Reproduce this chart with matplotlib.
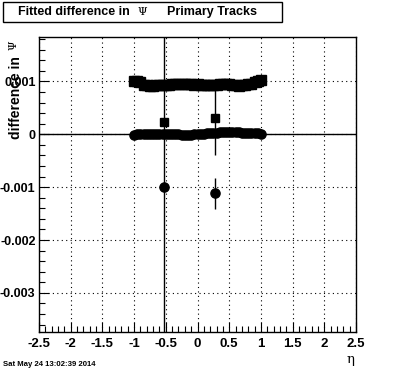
import matplotlib
matplotlib.use("Agg")
import matplotlib.pyplot as plt
from matplotlib.ticker import MultipleLocator, FixedLocator

# ---- data ----
eta = [-1.00, -0.95, -0.90, -0.85, -0.80, -0.75, -0.70, -0.65, -0.60, -0.55,
       -0.50, -0.45, -0.40, -0.35, -0.30, -0.25, -0.20, -0.15, -0.10, -0.05,
       0.00, 0.05, 0.10, 0.15, 0.20, 0.25, 0.30, 0.35, 0.40, 0.45,
       0.50, 0.55, 0.60, 0.65, 0.70, 0.75, 0.80, 0.85, 0.90, 0.95, 1.00]
sq_vals = [0.00101, 0.00100, 0.00098, 0.00094, 0.00093, 0.00092, 0.00092,
           0.00093, 0.00093, 0.00094, 0.00094, 0.00094, 0.00095, 0.00095,
           0.00095, 0.00096, 0.00096, 0.00095, 0.00095, 0.00094, 0.00095,
           0.00094, 0.00094, 0.00094, 0.00094, 0.00093, 0.00094, 0.00095,
           0.00095, 0.00096, 0.00096, 0.00094, 0.00093, 0.00092, 0.00093,
           0.00094, 0.00095, 0.00096, 0.00098, 0.00100, 0.00102]
circ_vals = [-0.00001, 0.0, 0.0, 0.00001, 0.00001, 0.0, 0.0, 0.00001, 0.00001,
             0.0, 0.0, 0.00001, 0.00001, 0.0, 0.0, -0.00001, -0.00001, -0.00002,
             -0.00001, 0.0, 0.0, 0.00001, 0.00001, 0.00002, 0.00002, 0.00002,
             0.00003, 0.00004, 0.00005, 0.00005, 0.00005, 0.00004, 0.00004,
             0.00004, 0.00003, 0.00003, 0.00003, 0.00002, 0.00002, 0.00002, 0.00001]
sq_out_x = [-0.53, 0.27]
sq_out_y = [0.000225, 0.00031]
sq_out_err = [0.01, 0.0007]
circ_out_x = [-0.53, 0.27]
circ_out_y = [-0.001, -0.00112]
circ_out_err = [0.0, 0.0003]

xticks = [-2.5, -2, -1.5, -1, -0.5, 0, 0.5, 1, 1.5, 2, 2.5]
xticklabels = ["-2.5", "-2", "-1.5", "-1", "-0.5", "0", "0.5", "1", "1.5", "2", "2.5"]
yticks = [-0.003, -0.002, -0.001, 0, 0.001]
yticklabels = ["-0.003", "-0.002", "-0.001", "0", "0.001"]

W, H = 396, 372
fig = plt.figure(figsize=(W / 100, H / 100), dpi=100)
L, R, T, B = 39, 356, 37, 332
ax = fig.add_axes([L / W, 1 - B / H, (R - L) / W, (B - T) / H])
ax.set_xlim(-2.5, 2.5)
ax.set_ylim(-0.00374, 0.00184)

font = "Liberation Sans"
ax.grid(True, which="major", color="black", linestyle=(0, (1, 3)), linewidth=0.8)
ax.axhline(0, color="black", linewidth=1.0, zorder=2)

ax.errorbar(sq_out_x, sq_out_y, yerr=sq_out_err, fmt="none", ecolor="black",
            elinewidth=1.0, zorder=3)
ax.errorbar(circ_out_x, circ_out_y, yerr=circ_out_err, fmt="none", ecolor="black",
            elinewidth=1.0, zorder=3)
ax.plot(eta, sq_vals, linestyle="none", marker="s", markersize=6.5,
        color="black", zorder=4)
ax.plot(sq_out_x, sq_out_y, linestyle="none", marker="s", markersize=5.8,
        color="black", zorder=4)
ax.plot(eta, circ_vals, linestyle="none", marker="o", markersize=6.6,
        color="black", zorder=4)
ax.plot(circ_out_x, circ_out_y, linestyle="none", marker="o", markersize=6.6,
        color="black", zorder=4)

ax.xaxis.set_major_locator(FixedLocator(xticks))
ax.set_xticklabels(xticklabels, fontfamily=font, fontweight="bold", fontsize=9.5)
ax.xaxis.set_minor_locator(MultipleLocator(0.1))
ax.yaxis.set_major_locator(FixedLocator(yticks))
ax.set_yticklabels(yticklabels, fontfamily=font, fontweight="bold", fontsize=9)
ax.yaxis.set_minor_locator(MultipleLocator(0.0002))
ax.tick_params(which="both", direction="in", top=False, right=False)
ax.tick_params(which="major", length=7, width=0.8)
ax.tick_params(axis="x", which="major", pad=4)
ax.tick_params(axis="y", which="major", pad=2.5)
ax.tick_params(which="minor", length=4, width=0.8)
for s in ax.spines.values():
    s.set_linewidth(1.0)

# y title
fig.text(16 / W, 1 - 56 / H, "difference in", rotation=90, ha="center", va="top",
         fontfamily=font, fontweight="bold", fontsize=10)
fig.text(14 / W, 1 - 45 / H, "\u03a8", rotation=90, ha="center", va="center",
         fontfamily="DejaVu Serif", fontsize=8)
# x title
fig.text(351 / W, 1 - 360 / H, "\u03b7", ha="center", va="center",
         fontfamily="DejaVu Serif", fontsize=9.5)

# title box
fig.patches.append(plt.Rectangle((3 / W, 1 - 22 / H), 279 / W, 20 / H,
                                 transform=fig.transFigure, fill=True,
                                 facecolor="white", edgecolor="black", linewidth=1.0))
fig.text(18 / W, 1 - 12 / H, "Fitted difference in", ha="left", va="center",
         fontfamily=font, fontweight="bold", fontsize=9)
fig.text(142 / W, 1 - 12 / H, "\u03a8", ha="center", va="center",
         fontfamily="DejaVu Serif", fontsize=8)
fig.text(167 / W, 1 - 12 / H, "Primary Tracks", ha="left", va="center",
         fontfamily=font, fontweight="bold", fontsize=9)

fig.text(3 / W, 1 - 364 / H, "Sat May 24 13:02:39 2014", ha="left", va="center",
         fontfamily=font, fontweight="bold", fontsize=5.6)

fig.savefig("out.png", dpi=100)
